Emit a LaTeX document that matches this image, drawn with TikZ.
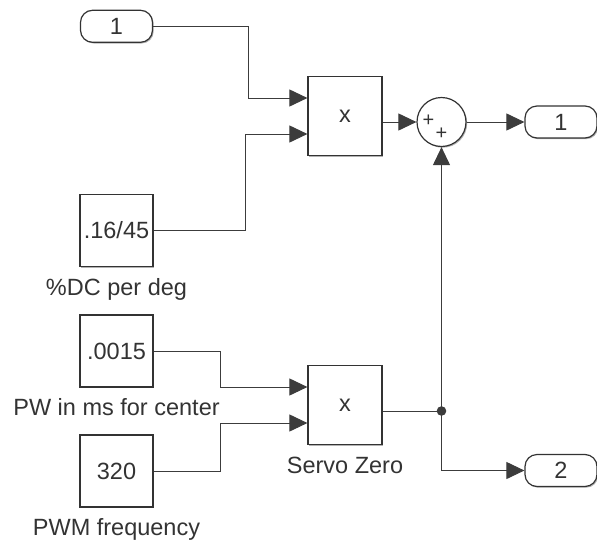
\documentclass[tikz,border=0pt]{standalone}
\usepackage{fontspec}
\setmainfont{Liberation Sans}
\usetikzlibrary{arrows.meta,shadows}
\definecolor{ink}{HTML}{333333}
\definecolor{wire}{HTML}{3C3C3C}
\begin{document}
\begin{tikzpicture}[x=1pt,y=-1pt,
  txt/.style={font=\fontsize{23.5}{28}\selectfont, text=ink},
  blk/.style={draw=ink, line width=1.2pt, fill=white, minimum width=73pt, minimum height=72pt, inner sep=0pt, txt,
    drop shadow={shadow xshift=1.2pt, shadow yshift=-1.2pt, opacity=0.3, fill=black}},
  prodblk/.style={blk, minimum width=74pt, minimum height=79pt},
  port/.style={draw=ink, line width=1.2pt, fill=white, rounded corners=12pt, minimum width=72pt, minimum height=32pt, inner sep=0pt, txt,
    drop shadow={shadow xshift=1.2pt, shadow yshift=-1.2pt, opacity=0.3, fill=black}},
  sumblk/.style={draw=ink, line width=1.2pt, fill=white, circle, minimum size=49pt, inner sep=0pt,
    drop shadow={shadow xshift=1.2pt, shadow yshift=-1.2pt, opacity=0.3, fill=black}},
  lbl/.style={txt, anchor=base},
  wirestyle/.style={draw=wire, line width=1pt},
  sig/.style={wirestyle, -{Triangle[length=18pt, width=17pt]}},
  plus/.style={font=\fontsize{20}{24}\selectfont, text=ink, inner sep=0pt}
]
\useasboundingbox (0,0) rectangle (597,544);

% sources
\node[port] (in1) at (116.5,26.3) {1};
\node[blk] (c1) at (116.5,230.5) {.16/45};
\node[lbl] (l1) at (116.5,295) {\%DC per deg};
\node[blk] (c2) at (116.5,351) {.0015};
\node[lbl] (l2) at (116.5,415) {PW in ms for center};
\node[blk] (c3) at (116.5,471) {320};
\node[lbl] (l3) at (116.5,535) {PWM frequency};

% products
\node[prodblk] (mul1) at (345,116) {x};
\node[prodblk] (servo) at (345,405) {x};
\node[lbl] (l4) at (345,473.5) {Servo Zero};

% sum
\node[sumblk] (sum) at (441.5,122) {};
\node[plus] (p1) at (428.5,120.5) {+};
\node[plus] (p2) at (441.5,133.5) {+};

% outputs
\node[port] (out1) at (561,122) {1};
\node[port] (out2) at (561,470.5) {2};

% junction
\coordinate (jn) at (441.5,411);

% wires
\draw[sig] (in1.east) -- ++(95.5,0) |- ([yshift=18pt]mul1.west);
\draw[sig] (c1.east) -- ++(92,0) |- ([yshift=-18pt]mul1.west);
\draw[sig] ([yshift=-6pt]mul1.east) -- (sum.west);
\draw[sig] (sum.east) -- (out1.west);
\draw[sig] (c2.east) -- ++(67,0) |- ([yshift=18pt]servo.west);
\draw[sig] (c3.east) -- ++(67,0) |- ([yshift=-18pt]servo.west);
\draw[wirestyle] ([yshift=-6pt]servo.east) -- (jn);
\draw[sig] (jn) -- (sum.south);
\draw[sig] (jn) |- (out2.west);
\fill[wire] (jn) circle (4.8pt);
\end{tikzpicture}
\end{document}
